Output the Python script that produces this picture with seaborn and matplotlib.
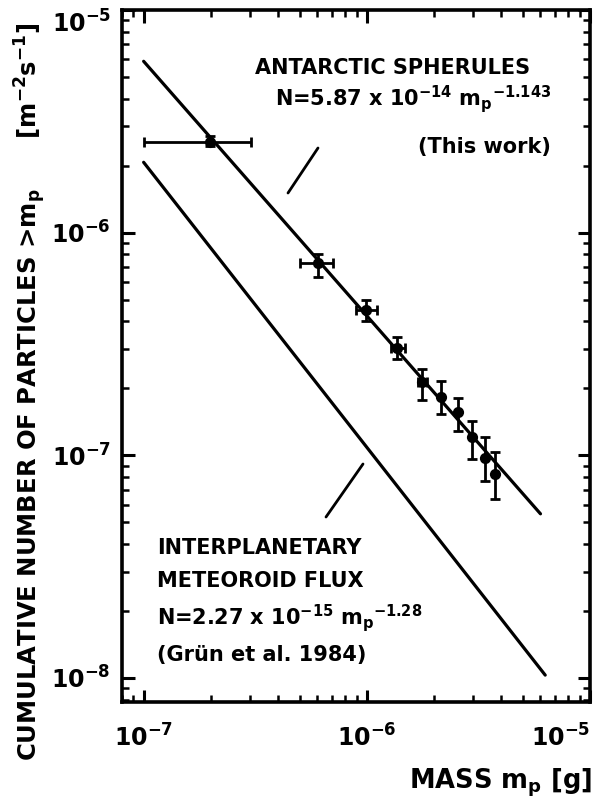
import numpy as np
import pandas as pd
import matplotlib
matplotlib.use("Agg")
import matplotlib.pyplot as plt
from matplotlib.lines import Line2D
import seaborn as sns

# ---------------- data ----------------
mass = [1.99e-7, 6.05e-7, 9.9e-7, 1.37e-6, 1.77e-6, 2.16e-6, 2.56e-6, 2.96e-6, 3.38e-6, 3.74e-6]
flux = [2.56e-6, 7.33e-7, 4.51e-7, 3.04e-7, 2.14e-7, 1.83e-7, 1.57e-7, 1.21e-7, 9.75e-8, 8.26e-8]
mass_lo = [1.0e-7, 5.04e-7, 8.93e-7, 1.29e-6, 1.69e-6, 2.16e-6, 2.56e-6, 2.96e-6, 3.38e-6, 3.74e-6]
mass_hi = [3.02e-7, 7.06e-7, 1.107e-6, 1.49e-6, 1.87e-6, 2.16e-6, 2.56e-6, 2.96e-6, 3.38e-6, 3.74e-6]
flux_lo = [2.44e-6, 6.34e-7, 4.02e-7, 2.72e-7, 1.77e-7, 1.54e-7, 1.29e-7, 9.63e-8, 7.67e-8, 6.38e-8]
flux_hi = [2.71e-6, 8.05e-7, 5.0e-7, 3.41e-7, 2.45e-7, 2.16e-7, 1.81e-7, 1.42e-7, 1.21e-7, 1.04e-7]

# power-law fits written on the chart: N = A * m^b
antarctic_A, antarctic_b = 5.87e-14, -1.143
antarctic_range = [1e-7, 6.0e-6]
grun_A, grun_b = 2.27e-15, -1.28
grun_range = [1e-7, 6.3e-6]

xticks = [1e-7, 1e-6, 1e-5]
yticks = [1e-8, 1e-7, 1e-6, 1e-5]

# ---------------- style ----------------
sns.set_theme(style="ticks")
plt.rcParams["font.family"] = ["DejaVu Sans"]
plt.rcParams["font.weight"] = "bold"
plt.rcParams["mathtext.fontset"] = "dejavusans"
plt.rcParams["mathtext.default"] = "bf"
plt.rcParams["text.color"] = "black"
plt.rcParams["axes.labelcolor"] = "black"
plt.rcParams["xtick.color"] = "black"
plt.rcParams["ytick.color"] = "black"

W, H = 597, 807
fig = plt.figure(figsize=(W / 100, H / 100), dpi=100)
fig.patch.set_facecolor("white")
L, R, T, B = 122, 590, 10, 702
ax = fig.add_axes([L / W, 1 - B / H, (R - L) / W, (B - T) / H])
ax.set_facecolor("white")
ax.set_xscale("log")
ax.set_yscale("log")

lines = pd.DataFrame({
    "mass": antarctic_range + grun_range,
    "N": [antarctic_A * m ** antarctic_b for m in antarctic_range]
         + [grun_A * m ** grun_b for m in grun_range],
    "series": ["antarctic"] * 2 + ["grun"] * 2,
})
sns.lineplot(data=lines, x="mass", y="N", units="series", estimator=None,
             color="black", linewidth=2.3, ax=ax, legend=False)

pts = pd.DataFrame({"mass": mass, "flux": flux})
m = np.array(mass); f = np.array(flux)
xerr = [m - np.array(mass_lo), np.array(mass_hi) - m]
yerr = [f - np.array(flux_lo), np.array(flux_hi) - f]
ax.errorbar(m, f, xerr=xerr, yerr=yerr, fmt="none", ecolor="black",
            elinewidth=2.0, capsize=3.5, capthick=2.0, zorder=3)
sns.scatterplot(data=pts, x="mass", y="flux", color="black", s=65,
                edgecolor="black", linewidth=0, ax=ax, zorder=4)

ax.set_xlim(8e-8, 1e-5)
ax.set_ylim(7.8e-9, 1e-5)
ax.set_xticks(xticks)
ax.set_yticks(yticks)
ax.set_xlabel("")
ax.set_ylabel("")

for s in ax.spines.values():
    s.set_linewidth(2.6)
    s.set_color("black")
ax.tick_params(which="both", direction="in", top=True, right=True, colors="black")
ax.tick_params(which="major", length=9, width=2.2, labelsize=17)
ax.tick_params(which="minor", length=5, width=1.8)
ax.tick_params(axis="x", which="major", pad=16)
ax.tick_params(axis="y", which="major", pad=8)

fig.canvas.draw()
xl = ax.get_xticklabels()
xl[-1].set_horizontalalignment("right")
yl = ax.get_yticklabels()
yl[-1].set_verticalalignment("top")


def fx(px):
    return px / W


def fy(py):
    return 1 - py / H


txt = dict(fontsize=15, fontweight="bold", color="black")
fig.text(fx(255), fy(68), "ANTARCTIC SPHERULES", ha="left", va="center", **txt)
fig.text(fx(551), fy(99), r"N=5.87 x 10$^{-14}$ m$_p$$^{-1.143}$", ha="right", va="center", **txt)
fig.text(fx(551), fy(147), "(This work)", ha="right", va="center", **txt)
fig.text(fx(157), fy(548), "INTERPLANETARY", ha="left", va="center", **txt)
fig.text(fx(157), fy(581), "METEOROID FLUX", ha="left", va="center", **txt)
fig.text(fx(157), fy(618), r"N=2.27 x 10$^{-15}$ m$_p$$^{-1.28}$", ha="left", va="center", **txt)
fig.text(fx(157), fy(655), "(Grün et al. 1984)", ha="left", va="center", **txt)

for (x1, y1, x2, y2) in [(318, 148, 288, 193), (363, 464, 326, 517)]:
    fig.add_artist(Line2D([fx(x1), fx(x2)], [fy(y1), fy(y2)], transform=fig.transFigure,
                          color="black", linewidth=2.0))

fig.text(fx(30), fy(392),
         r"CUMULATIVE NUMBER OF PARTICLES >m$_p$      [m$^{-2}$s$^{-1}$]",
         rotation=90, ha="center", va="center", fontsize=17.5, fontweight="bold")
fig.text(fx(592), fy(783), r"MASS m$_p$ [g]", ha="right", va="center",
         fontsize=18.5, fontweight="bold")

fig.savefig("out.png", dpi=100, facecolor="white")
